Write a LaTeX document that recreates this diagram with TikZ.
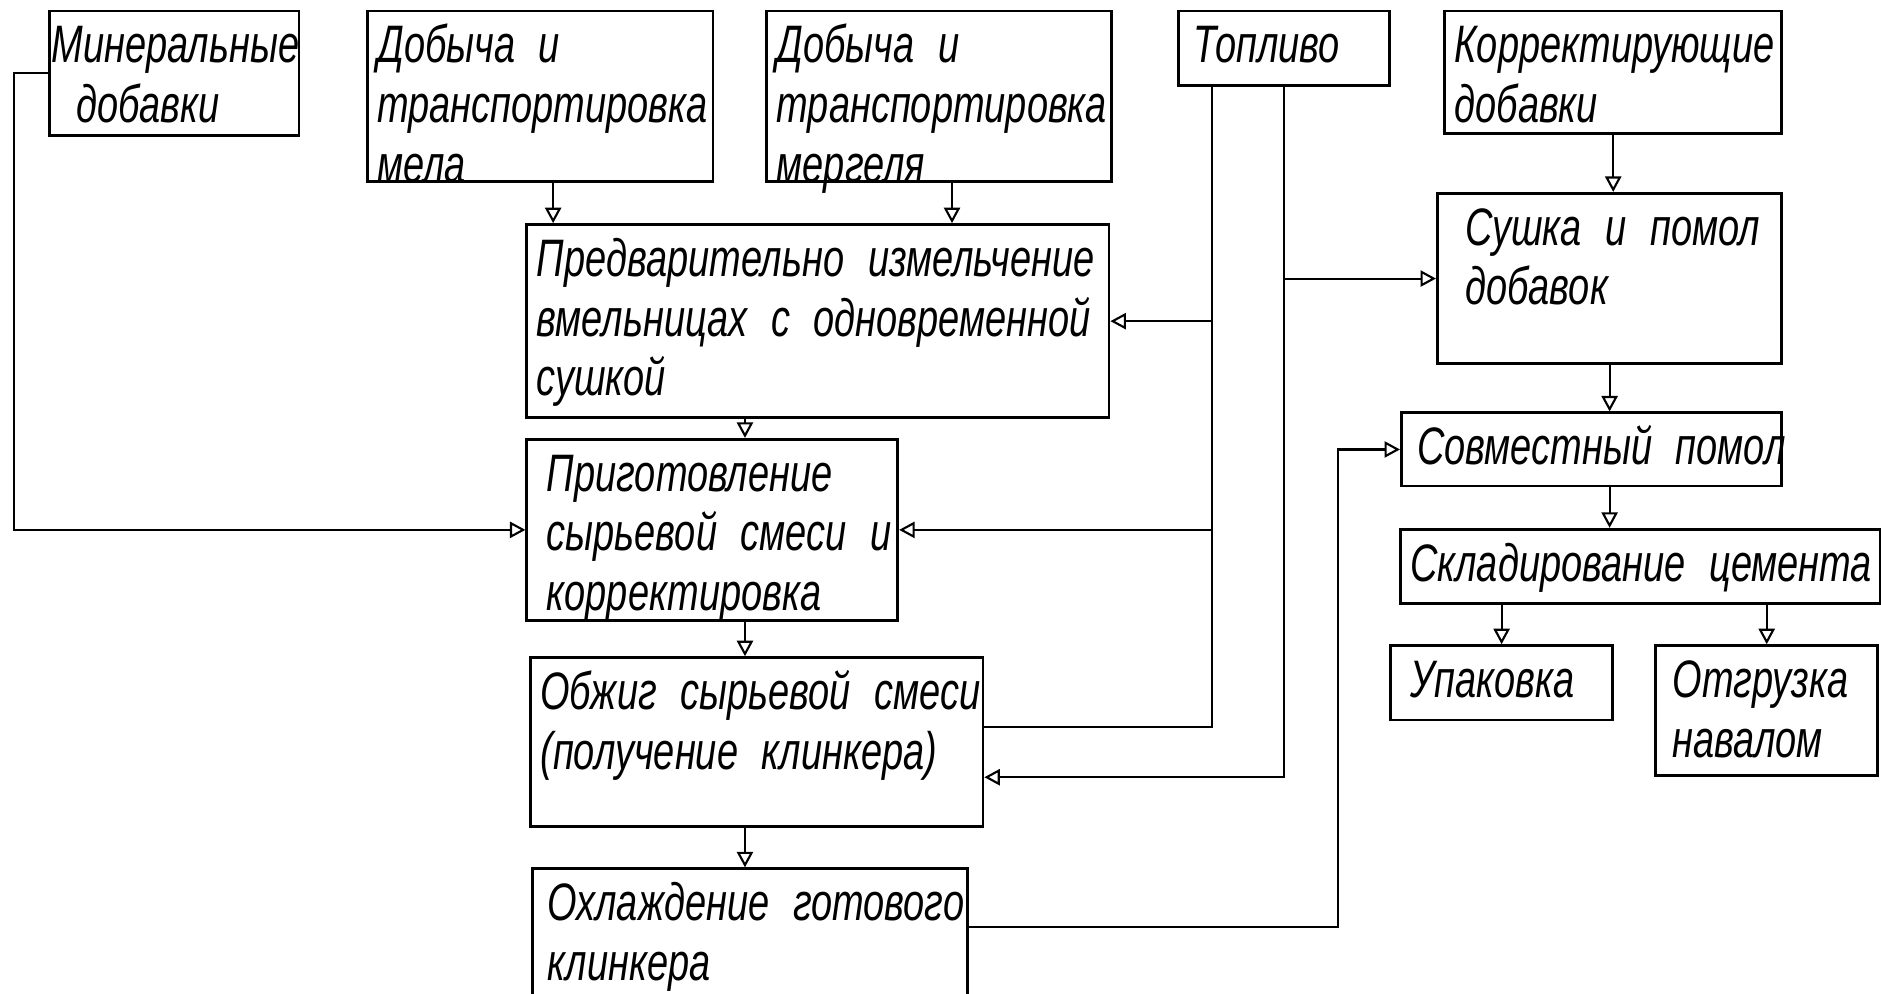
\documentclass[tikz,border=0pt]{standalone}
\usepackage{fontspec}
\setmainfont{Liberation Sans}[FakeStretch=0.72]
\usepackage{tikz}
\usetikzlibrary{arrows.meta}
\usetikzlibrary{calc}
\tikzstyle{blok}=[draw,line width=0.8pt,rectangle,anchor=north west,inner sep=1mm,font=\fontsize{15}{17}\selectfont\itshape]
\tikzstyle{strelka}=[line width=0.6pt,-{Triangle[open,length=4.4pt,width=4.6pt]}]
% text box of a block: [indent]{width}{height}{text}
\newcommand{\kletka}[4][0mm]{\parbox[c][\dimexpr#3-2mm\relax][t]{\dimexpr#2-2mm\relax}{\spaceskip=0.45em plus 0.1em\hspace*{#1}\begin{tabular}[t]{@{}l@{}}#4\end{tabular}}}

\begin{document}
\begin{tikzpicture}[x=0.012cm,y=-0.012cm,
  liniya/.style={line width=0.6pt}]
\useasboundingbox (0,0) rectangle (1568,828);
\clip (0,0) rectangle (1568,828);

% top row
\node[blok] (A) at (40,8) {\kletka[-0.8mm]{2.496cm}{1.248cm}{Минеральные\\\hspace*{2.5mm}добавки}};
\node[blok] (B) at (305,8) {\kletka{3.456cm}{1.704cm}{Добыча и\\транспортировка\\мела}};
\node[blok] (C) at (638,8) {\kletka{3.444cm}{1.704cm}{Добыча и\\транспортировка\\мергеля}};
\node[blok] (D) at (981,8) {\kletka[0.5mm]{2.112cm}{0.744cm}{Топливо}};
\node[blok] (E) at (1203,8) {\kletka{3.372cm}{1.224cm}{Корректирующие\\добавки}};

% left column
\node[blok] (F) at (438,186) {\kletka{5.82cm}{1.932cm}{Предварительно измельчение\\вмельницах с одновременной\\сушкой}};
\node[blok] (I) at (438,365) {\kletka[1mm]{3.708cm}{1.812cm}{Приготовление\\сырьевой смеси и\\корректировка}};
\node[blok] (M) at (441,547) {\kletka{4.524cm}{1.692cm}{Обжиг сырьевой смеси\\(получение клинкера)}};
\node[blok] (N) at (443,723) {\kletka[0.5mm]{4.344cm}{1.8cm}{Охлаждение готового\\клинкера}};

% right column
\node[blok] (G) at (1197,160) {\kletka[1.8mm]{3.444cm}{1.704cm}{Сушка и помол\\добавок}};
\node[blok] (H) at (1167,343) {\kletka[0.6mm]{3.804cm}{0.732cm}{Совместный помол}};
\node[blok] (J) at (1166,440) {\kletka{4.8cm}{0.744cm}{Складирование цемента}};
\node[blok] (K) at (1158,537) {\kletka[1mm]{2.22cm}{0.744cm}{Упаковка}};
\node[blok] (L) at (1379,537) {\kletka[0.7mm]{2.22cm}{1.296cm}{Отгрузка\\навалом}};

% helper points
\coordinate (rail) at (12,300);
\coordinate (os) at (621,0);
\coordinate (b1) at ([xshift=1.3mm]B.south);
\coordinate (c1) at ([xshift=1.3mm]C.south);
\coordinate (t1) at ([xshift=3.5mm]D.south west);
\coordinate (m1) at ([yshift=1.5mm]M.east);
\coordinate (m2) at ([yshift=-3.5mm]M.east);
\coordinate (n1) at ([yshift=-6mm]N.north east);
\coordinate (rail2) at (1115,600);

% main line
\draw[strelka] (A.west) -| (rail) |- (I.west);
\draw[strelka] (b1) -- (b1 |- F.north);
\draw[strelka] (c1) -- (c1 |- F.north);
\draw[strelka] (os |- F.south) -- (os |- I.north);
\draw[strelka] (os |- I.south) -- (os |- M.north);
\draw[strelka] (os |- M.south) -- (os |- N.north);

% fuel
\draw[liniya] (t1) |- (m1);
\draw[strelka] (t1 |- F.east) -- (F.east);
\draw[strelka] (t1 |- I.east) -- (I.east);
\draw[strelka] (D.south) |- (m2);
\draw[strelka] (D.south |- G.west) -- (G.west);

% cement
\draw[strelka] (E.south) -- (E.south |- G.north);
\draw[strelka] (G.south) -- (G.south |- H.north);
\draw[strelka] (G.south |- H.south) -- (G.south |- J.north);
\draw[strelka] (K.north |- J.south) -- (K.north);
\draw[strelka] (L.north |- J.south) -- (L.north);
\draw[strelka] (n1) -| (rail2) |- (H.west);
\end{tikzpicture}
\end{document}
